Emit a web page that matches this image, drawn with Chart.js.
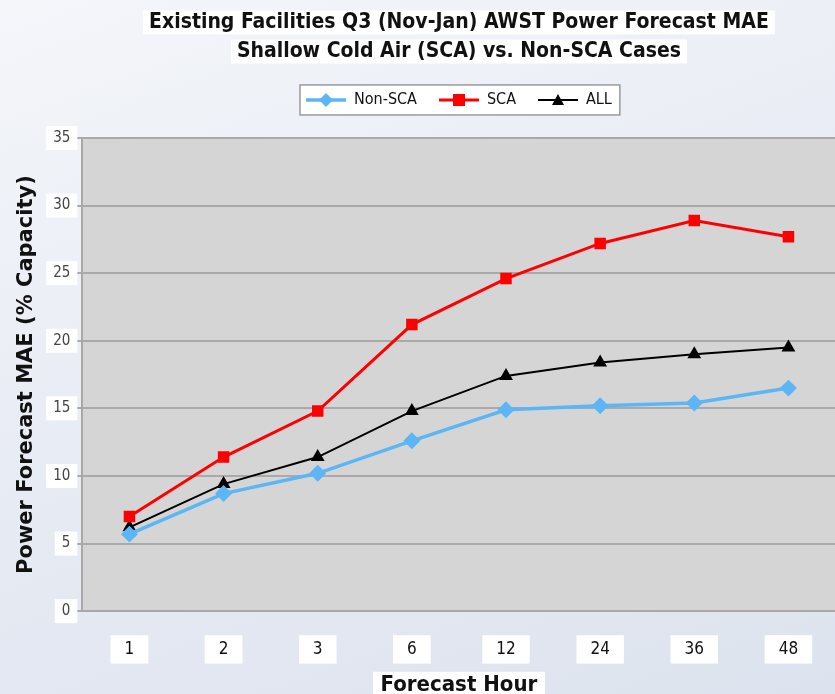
<!DOCTYPE html>
<html>
<head>
<meta charset="utf-8">
<script src="https://cdn.jsdelivr.net/npm/chart.js@4"></script>
<style>
  html, body { margin: 0; padding: 0; overflow: hidden; }
  body {
    width: 835px;
    height: 694px;
    background: linear-gradient(160deg, #f4f6fa 0%, #e6eaf3 55%, #dde3ee 100%);
  }
  #wrap { position: relative; width: 845px; height: 694px; }
</style>
</head>
<body>
<div id="wrap"><canvas id="myChart"></canvas></div>
<script>
const hours = ["1", "2", "3", "6", "12", "24", "36", "48"];
const nonSca = [5.7, 8.7, 10.2, 12.6, 14.9, 15.2, 15.4, 16.5];
const sca = [7.0, 11.4, 14.8, 21.2, 24.6, 27.2, 28.9, 27.7];
const all = [6.2, 9.4, 11.4, 14.8, 17.4, 18.4, 19.0, 19.5];

const condensed = "'DejaVu Sans Condensed', 'DejaVu Sans'";

// small legend icon: line with marker in the middle
function legendIcon(color, style, lw) {
  const c = document.createElement("canvas");
  c.width = 40;
  c.height = 16;
  const g = c.getContext("2d");
  g.strokeStyle = color;
  g.fillStyle = color;
  g.lineWidth = lw;
  g.beginPath();
  g.moveTo(0, 8);
  g.lineTo(40, 8);
  g.stroke();
  g.beginPath();
  if (style === "rect") {
    g.rect(14, 2, 12, 12);
  } else if (style === "rectRot") {
    g.moveTo(20, 1); g.lineTo(27, 8); g.lineTo(20, 15); g.lineTo(13, 8);
  } else {
    g.moveTo(20, 2); g.lineTo(26, 13); g.lineTo(14, 13);
  }
  g.closePath();
  g.fill();
  return c;
}

// gray plot area + white boxes behind title, legend and axis title
const backdrop = {
  id: "backdrop",
  beforeDraw(chart) {
    const { ctx, chartArea: a } = chart;
    ctx.save();
    ctx.fillStyle = "#d5d5d5";
    ctx.fillRect(a.left, a.top, a.right - a.left, a.bottom - a.top);
    ctx.strokeStyle = "#a8a8a8";
    ctx.lineWidth = 2;
    ctx.beginPath();
    ctx.moveTo(a.left, a.top);
    ctx.lineTo(a.right, a.top);
    ctx.stroke();

    // title lines
    const tb = chart.titleBlock;
    const to = tb.options;
    const lh = to.font.size * to.font.lineHeight;
    ctx.font = "bold " + to.font.size + "px " + condensed;
    ctx.fillStyle = "#ffffff";
    to.text.forEach((line, i) => {
      const w = ctx.measureText(line).width + 12;
      const cx = (tb.left + tb.right) / 2;
      const cy = tb.top + to.padding.top + lh * (i + 0.5);
      ctx.fillRect(cx - w / 2, cy - 12, w, 24);
    });

    // legend
    const boxes = chart.legend.legendHitBoxes;
    if (boxes && boxes.length) {
      const l = Math.min(...boxes.map((b) => b.left)) - 6;
      const r = Math.max(...boxes.map((b) => b.left + b.width)) + 8;
      const t = boxes[0].top - 7;
      const h = boxes[0].height + 14;
      ctx.fillStyle = "#ffffff";
      ctx.fillRect(l, t, r - l, h);
      ctx.strokeStyle = "#9a9a9a";
      ctx.lineWidth = 1.5;
      ctx.strokeRect(l, t, r - l, h);
    }

    // x axis title
    const xs = chart.scales.x;
    const xt = xs.options.title;
    const xy = xs.bottom - xt.padding.bottom - xt.font.size * 1.2 / 2;
    ctx.fillStyle = "#ffffff";
    ctx.fillRect((a.left + a.right) / 2 - 86, xy - 13, 172, 28);
    ctx.restore();
  },
};

const ctx = document.getElementById("myChart").getContext("2d");

const myChart = new Chart(ctx, {
  type: "line",
  data: {
    labels: hours,
    datasets: [
      {
        label: "Non-SCA",
        data: nonSca,
        xAxisID: "x",
        borderColor: "#5cb6f6",
        backgroundColor: "#5cb6f6",
        borderWidth: 3.5,
        pointStyle: "rectRot",
        pointRadius: 6,
        tension: 0,
      },
      {
        label: "SCA",
        data: sca,
        xAxisID: "x",
        borderColor: "#ff0000",
        backgroundColor: "#ff0000",
        borderWidth: 3,
        pointStyle: "rect",
        pointRadius: 6,
        tension: 0,
      },
      {
        label: "ALL",
        data: all,
        xAxisID: "x",
        borderColor: "#000000",
        backgroundColor: "#000000",
        borderWidth: 2,
        pointStyle: "triangle",
        pointRadius: 6,
        tension: 0,
      },
    ],
  },
  options: {
    responsive: true,
    maintainAspectRatio: false,
    animation: false,
    layout: {
      padding: { left: 14, right: 6, top: 8, bottom: -4 },
    },
    plugins: {
      title: {
        display: true,
        fullSize: false,
        text: [
          "Existing Facilities Q3 (Nov-Jan) AWST Power Forecast MAE",
          "Shallow Cold Air (SCA) vs. Non-SCA Cases",
        ],
        color: "#111111",
        font: { family: condensed, size: 21, weight: "bold", lineHeight: 1.38 },
        padding: { top: 0, bottom: 4 },
      },
      legend: {
        display: true,
        fullSize: false,
        position: "top",
        labels: {
          usePointStyle: true,
          pointStyleWidth: 40,
          boxHeight: 16,
          color: "#111111",
          font: { family: condensed, size: 16 },
          padding: 22,
          generateLabels(chart) {
            const items = Chart.defaults.plugins.legend.labels.generateLabels(chart);
            items.forEach((it) => {
              const ds = chart.data.datasets[it.datasetIndex];
              it.pointStyle = legendIcon(ds.borderColor, ds.pointStyle, ds.borderWidth);
            });
            return items;
          },
        },
      },
      tooltip: { enabled: false },
    },
    scales: {
      x: {
        offset: true,
        grid: { display: false, drawTicks: false },
        border: { color: "#a8a8a8", width: 2 },
        ticks: {
          color: "#111111",
          padding: 28,
          font: { family: condensed, size: 17 },
          showLabelBackdrop: true,
          backdropColor: "#ffffff",
          backdropPadding: { x: 14, y: 4 },
        },
        title: {
          display: true,
          text: "Forecast Hour",
          color: "#111111",
          font: { family: condensed, size: 22, weight: "bold" },
          padding: { top: -16, bottom: 0 },
        },
      },
      // empty band between legend and plot
      spacer: {
        type: "category",
        position: "top",
        grid: { display: false },
        border: { display: false },
        ticks: { display: false },
        afterFit(scale) {
          scale.height = 20;
        },
      },
      y: {
        min: 0,
        max: 35,
        grid: {
          color: "#a9a9a9",
          lineWidth: 2,
          tickLength: 6,
          drawTicks: true,
        },
        border: { color: "#a8a8a8", width: 2 },
        ticks: {
          stepSize: 5,
          color: "#444444",
          padding: 6,
          font: { family: condensed, size: 15 },
          showLabelBackdrop: true,
          backdropColor: "#ffffff",
          backdropPadding: { x: 7, y: 3 },
        },
        title: {
          display: true,
          text: "Power Forecast MAE (% Capacity)",
          color: "#111111",
          font: { family: "'DejaVu Sans'", size: 21, weight: "bold" },
          padding: { top: 0, bottom: 8 },
        },
      },
    },
  },
  plugins: [backdrop],
});
</script>
</body>
</html>
